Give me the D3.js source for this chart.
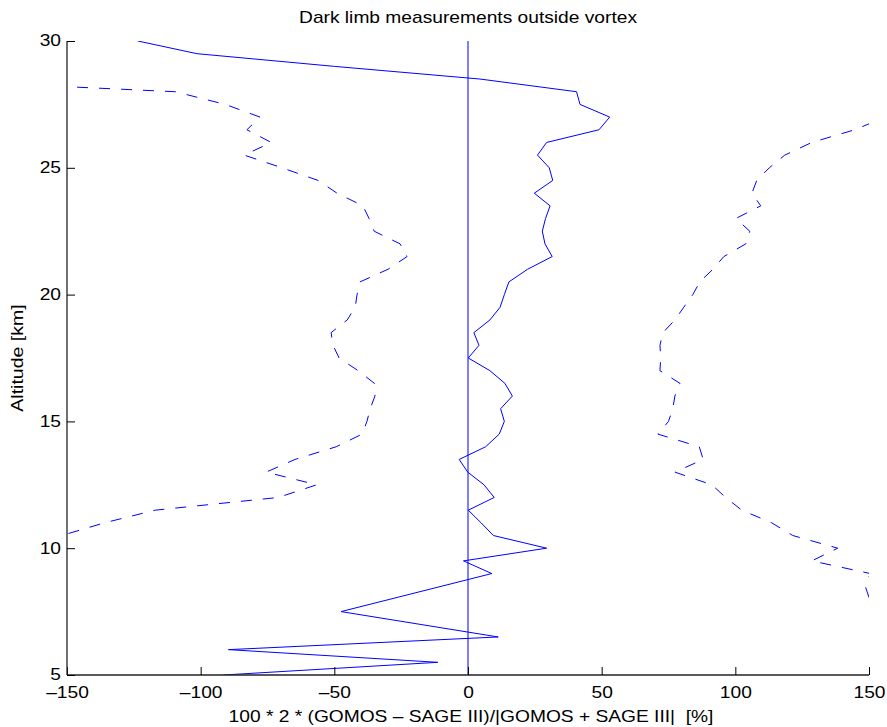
<!DOCTYPE html>
<html><head><meta charset="utf-8">
<script src="https://cdn.jsdelivr.net/npm/d3@7"></script>
<style>body{margin:0;background:#fff;} text{font-family:"Liberation Sans",Arial,Helvetica,sans-serif;}</style>
</head><body>
<svg id="chart" width="887" height="727"></svg>
<script>
// Altitudes (km) and series values (%)
const meanAlt = [30,29.5,29,28.5,28,27.5,27,26.5,26,25.5,25,24.5,24,23.5,23,22.5,22,21.5,21,20.5,20,19.5,19,18.5,18,17.5,17,16.5,16,15.5,15,14.5,14,13.5,13,12.5,12,11.5,11,10.5,10,9.5,9,7.5,6.5,6,5.5,5];
const meanVal = [-123.5,-101.4,-50,4.5,40.6,41.9,53,49,29.4,26,30.4,31.7,24.8,30.7,29,27.8,28.8,31.5,22.3,15.3,13.6,12,8.2,2.2,4.1,0.1,8.2,13.8,16.6,12.2,13.6,11.7,6.6,-3.3,-0.1,6,9.8,0.1,4.9,9.5,29.4,-1.7,8.9,-47.5,11.3,-89.6,-11.3,-91.5];

const lowAlt = [28.5,28,27.5,27,26.5,26,25.5,25,24.5,24,23.5,23,22.5,22,21.5,21,20.5,20,19.5,19,18.5,18,17.5,17,16.5,16,15.5,15,14.5,14,13.5,13,12.5,12,11.5,11,10.5,10,9.5];
const lowVal = [-212,-109.5,-90.8,-77.8,-82.7,-73.6,-83.7,-69.6,-56,-49,-39.3,-37,-35.1,-25.4,-22.8,-29.9,-40.4,-41.5,-42.2,-45.2,-51.2,-50.5,-48.2,-41.1,-35,-34.8,-36.6,-37.8,-39.6,-49.3,-64.7,-75.5,-56.6,-71,-117,-136,-152,-185,-200];

const highAlt = [27.5,27,26.5,26,25.5,25,24.5,24,23.5,23,22.5,22,21.5,21,20.5,20,19.5,19,18.5,18,17.5,17,16.5,16,15.5,15,14.5,14,13.5,13,12.5,12,11.5,11,10.5,10,9.5,9,8.5,8,7.5];
const highVal = [175,156,144.7,128.6,118.5,112.7,108,106.2,109.5,100.2,105.4,103.9,95.7,91.6,86.7,84.1,80.7,77.4,72.9,71.8,72.1,71.8,79.3,77.4,76.6,75,71,86.5,88,77.4,91.2,96.4,102.4,113.6,121.5,138.3,128.6,150.5,148.6,150.2,175];

const xTicks = [-150,-100,-50,0,50,100,150];
const yTicks = [5,10,15,20,25,30];
const title = "Dark limb measurements outside vortex";
const xLabel = "100 * 2 * (GOMOS \u2013 SAGE III)/|GOMOS + SAGE III|  [%]";
const yLabel = "Altitude [km]";

const svg = d3.select("#chart");
const L = 67, R = 869, T = 41, B = 675;
const SX = 1.2; // horizontal stretch of the text
const x = d3.scaleLinear().domain([-150,150]).range([L,R]);
const y = d3.scaleLinear().domain([5,30]).range([B,T]);

svg.append("defs").append("clipPath").attr("id","clip")
  .append("rect").attr("x",L).attr("y",T).attr("width",R-L).attr("height",B-T);

const g = svg.append("g").attr("clip-path","url(#clip)");
const line = d3.line().x(d=>x(d[0])).y(d=>y(d[1]));
const blue = "#0000ff";

g.append("path").datum(d3.zip(lowVal,lowAlt)).attr("d",line)
  .attr("fill","none").attr("stroke",blue).attr("stroke-width",1).attr("stroke-dasharray","11,11");
g.append("path").datum(d3.zip(highVal,highAlt)).attr("d",line)
  .attr("fill","none").attr("stroke",blue).attr("stroke-width",1).attr("stroke-dasharray","11,11");
g.append("path").datum(d3.zip(meanVal,meanAlt)).attr("d",line)
  .attr("fill","none").attr("stroke",blue).attr("stroke-width",1);
// zero reference line
g.append("path").datum([[0,5],[0,30]]).attr("d",line)
  .attr("fill","none").attr("stroke",blue).attr("stroke-width",1);

// axes
const fmt = v => (v<0 ? "\u2013"+Math.abs(v) : String(v));
const xAxis = d3.axisBottom(x).tickValues(xTicks).tickSize(-8).tickPadding(14).tickFormat(fmt);
const yAxis = d3.axisLeft(y).tickValues(yTicks).tickSize(-8).tickPadding(14).tickFormat(d=>d);
const gx = svg.append("g").attr("transform",`translate(0,${B})`).call(xAxis);
const gy = svg.append("g").attr("transform",`translate(${L},0)`).call(yAxis);
[gx,gy].forEach(a=>{
  a.select(".domain").attr("stroke","#222").attr("stroke-width",1.3);
  a.selectAll(".tick line").attr("stroke","#000");
  a.selectAll(".tick text").attr("font-size",16).attr("fill","#000")
   .style("font-family","'Liberation Sans',Arial,sans-serif")
   .attr("transform",`scale(${SX},1)`);
});
gx.select(".domain").attr("d",`M${L},0H${R}`);
gy.select(".domain").attr("d",`M0,${B}V${T}`);
gy.selectAll(".tick text").attr("x",-6/SX).attr("dy","0.3em");
gx.selectAll(".tick text").attr("y",12);

svg.append("text").attr("transform",`translate(468,23) scale(${SX},1)`).attr("text-anchor","middle")
  .attr("font-size",16).text(title);
svg.append("text").attr("transform",`translate(471,722) scale(${SX},1)`).attr("text-anchor","middle")
  .attr("font-size",16).attr("xml:space","preserve").style("white-space","pre").text(xLabel);
svg.append("text").attr("transform",`translate(23,358) rotate(-90) scale(1.22,1)`).attr("text-anchor","middle")
  .attr("font-size",16).text(yLabel);
</script>
</body></html>
